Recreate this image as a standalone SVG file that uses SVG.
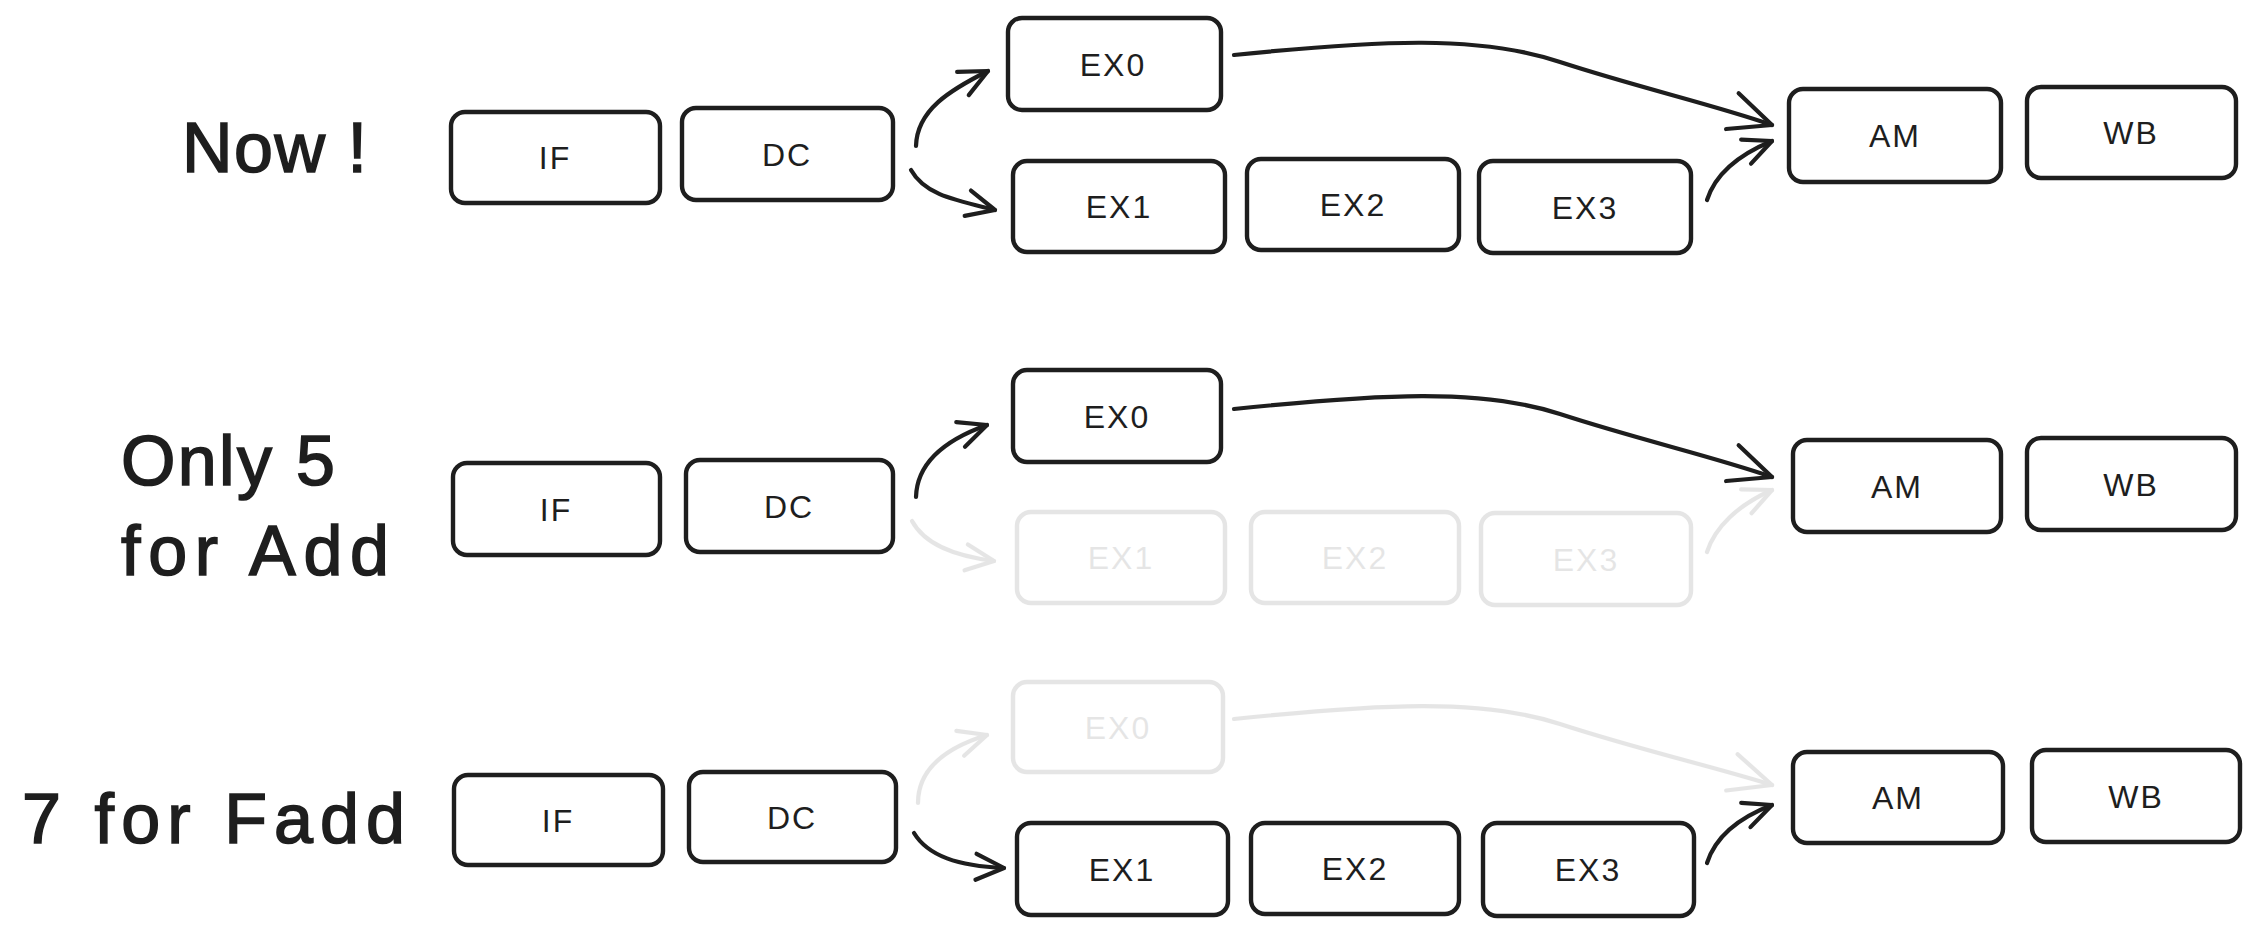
<svg xmlns="http://www.w3.org/2000/svg" width="2260" height="934" viewBox="0 0 2260 934">
<style>
.box{fill:#ffffff;stroke:#1e1e1e;stroke-width:4.4}
.lbl{font-family:"Liberation Sans",Arial,sans-serif;font-size:32px;fill:#1e1e1e;text-anchor:middle;letter-spacing:2px}
.big{font-family:"Liberation Sans",Arial,sans-serif;font-size:70px;fill:#1e1e1e;stroke:#1e1e1e;stroke-width:1.6}
.conn{fill:none;stroke:#1e1e1e;stroke-width:4.2;stroke-linecap:round}
.faded{opacity:0.11}
</style>
<defs>
<marker id="ah" viewBox="-40 -20 44 40" markerWidth="44" markerHeight="40" refX="0" refY="0" orient="auto" markerUnits="userSpaceOnUse">
<path d="M -28 -13 L 0 0 L -28 13" fill="none" stroke="#1e1e1e" stroke-width="4.2" stroke-linecap="round" stroke-linejoin="round"/>
</marker>
<marker id="ahL" viewBox="-50 -26 54 52" markerWidth="54" markerHeight="52" refX="0" refY="0" orient="auto" markerUnits="userSpaceOnUse">
<path d="M -42 -19 L 0 0 L -42 19" fill="none" stroke="#1e1e1e" stroke-width="4.2" stroke-linecap="round" stroke-linejoin="round"/>
</marker>
</defs>
<rect width="2260" height="934" fill="#ffffff"/>

<g id="connectors">
<!-- row 1 -->
<path class="conn" d="M 916 146 C 917 110, 950 90, 988 71" marker-end="url(#ah)"/>
<path class="conn" d="M 911 170 C 925 195, 955 200, 995 210" marker-end="url(#ah)"/>
<path class="conn" d="M 1234 55 C 1380 40, 1480 35, 1560 62 C 1640 88, 1715 105, 1772 125" marker-end="url(#ahL)"/>
<path class="conn" d="M 1707 200 C 1715 175, 1738 155, 1772 141" marker-end="url(#ah)"/>
<!-- row 2 -->
<path class="conn" d="M 916 497 C 917 462, 945 440, 987 425" marker-end="url(#ah)"/>
<path class="conn faded" d="M 912 521 C 925 545, 955 556, 994 561" marker-end="url(#ah)"/>
<path class="conn" d="M 1234 409 C 1380 394, 1480 388, 1560 414 C 1640 440, 1715 457, 1772 477" marker-end="url(#ahL)"/>
<path class="conn faded" d="M 1707 552 C 1715 527, 1738 505, 1772 490" marker-end="url(#ah)"/>
<!-- row 3 -->
<path class="conn faded" d="M 918 803 C 918 770, 945 748, 987 735" marker-end="url(#ah)"/>
<path class="conn" d="M 914 833 C 928 856, 958 866, 1004 868" marker-end="url(#ah)"/>
<path class="conn faded" d="M 1234 719 C 1380 704, 1480 698, 1560 724 C 1640 750, 1715 767, 1772 785" marker-end="url(#ahL)"/>
<path class="conn" d="M 1707 863 C 1715 838, 1738 818, 1772 805" marker-end="url(#ah)"/>
</g>

<!-- titles -->
<g id="title-now"><text class="big" x="182" y="172" textLength="185" lengthAdjust="spacing">Now !</text></g>
<g id="title-add"><text class="big" x="121" y="485" textLength="214" lengthAdjust="spacing">Only 5</text><text class="big" x="121" y="575" textLength="268" lengthAdjust="spacing">for Add</text></g>
<g id="title-fadd"><text class="big" x="22" y="843" textLength="383" lengthAdjust="spacing">7 for Fadd</text></g>

<!-- row 1 -->
<g id="r1-if"><rect class="box" x="451" y="112" width="209" height="91" rx="14"/><text class="lbl" x="555" y="169">IF</text></g>
<g id="r1-dc"><rect class="box" x="682" y="108" width="211" height="92" rx="14"/><text class="lbl" x="787" y="166">DC</text></g>
<g id="r1-ex0"><rect class="box" x="1008" y="18" width="213" height="92" rx="14"/><text class="lbl" x="1113" y="76">EX0</text></g>
<g id="r1-ex1"><rect class="box" x="1013" y="161" width="212" height="91" rx="14"/><text class="lbl" x="1119" y="218">EX1</text></g>
<g id="r1-ex2"><rect class="box" x="1247" y="159" width="212" height="91" rx="14"/><text class="lbl" x="1353" y="216">EX2</text></g>
<g id="r1-ex3"><rect class="box" x="1479" y="161" width="212" height="92" rx="14"/><text class="lbl" x="1585" y="219">EX3</text></g>
<g id="r1-am"><rect class="box" x="1789" y="89" width="212" height="93" rx="14"/><text class="lbl" x="1895" y="147">AM</text></g>
<g id="r1-wb"><rect class="box" x="2027" y="87" width="209" height="91" rx="14"/><text class="lbl" x="2131" y="144">WB</text></g>

<!-- row 2 -->
<g id="r2-if"><rect class="box" x="453" y="463" width="207" height="92" rx="14"/><text class="lbl" x="556" y="521">IF</text></g>
<g id="r2-dc"><rect class="box" x="686" y="460" width="207" height="92" rx="14"/><text class="lbl" x="789" y="518">DC</text></g>
<g id="r2-ex0"><rect class="box" x="1013" y="370" width="208" height="92" rx="14"/><text class="lbl" x="1117" y="428">EX0</text></g>
<g id="r2-ex1" class="faded"><rect class="box" x="1017" y="512" width="208" height="91" rx="14"/><text class="lbl" x="1121" y="569">EX1</text></g>
<g id="r2-ex2" class="faded"><rect class="box" x="1251" y="512" width="208" height="91" rx="14"/><text class="lbl" x="1355" y="569">EX2</text></g>
<g id="r2-ex3" class="faded"><rect class="box" x="1481" y="513" width="210" height="92" rx="14"/><text class="lbl" x="1586" y="571">EX3</text></g>
<g id="r2-am"><rect class="box" x="1793" y="440" width="208" height="92" rx="14"/><text class="lbl" x="1897" y="498">AM</text></g>
<g id="r2-wb"><rect class="box" x="2027" y="438" width="209" height="92" rx="14"/><text class="lbl" x="2131" y="496">WB</text></g>

<!-- row 3 -->
<g id="r3-if"><rect class="box" x="454" y="775" width="209" height="90" rx="14"/><text class="lbl" x="558" y="832">IF</text></g>
<g id="r3-dc"><rect class="box" x="689" y="772" width="207" height="90" rx="14"/><text class="lbl" x="792" y="829">DC</text></g>
<g id="r3-ex0" class="faded"><rect class="box" x="1013" y="682" width="210" height="90" rx="14"/><text class="lbl" x="1118" y="739">EX0</text></g>
<g id="r3-ex1"><rect class="box" x="1017" y="823" width="211" height="92" rx="14"/><text class="lbl" x="1122" y="881">EX1</text></g>
<g id="r3-ex2"><rect class="box" x="1251" y="823" width="208" height="91" rx="14"/><text class="lbl" x="1355" y="880">EX2</text></g>
<g id="r3-ex3"><rect class="box" x="1483" y="823" width="211" height="93" rx="14"/><text class="lbl" x="1588" y="881">EX3</text></g>
<g id="r3-am"><rect class="box" x="1793" y="752" width="210" height="91" rx="14"/><text class="lbl" x="1898" y="809">AM</text></g>
<g id="r3-wb"><rect class="box" x="2032" y="750" width="208" height="92" rx="14"/><text class="lbl" x="2136" y="808">WB</text></g>
</svg>
